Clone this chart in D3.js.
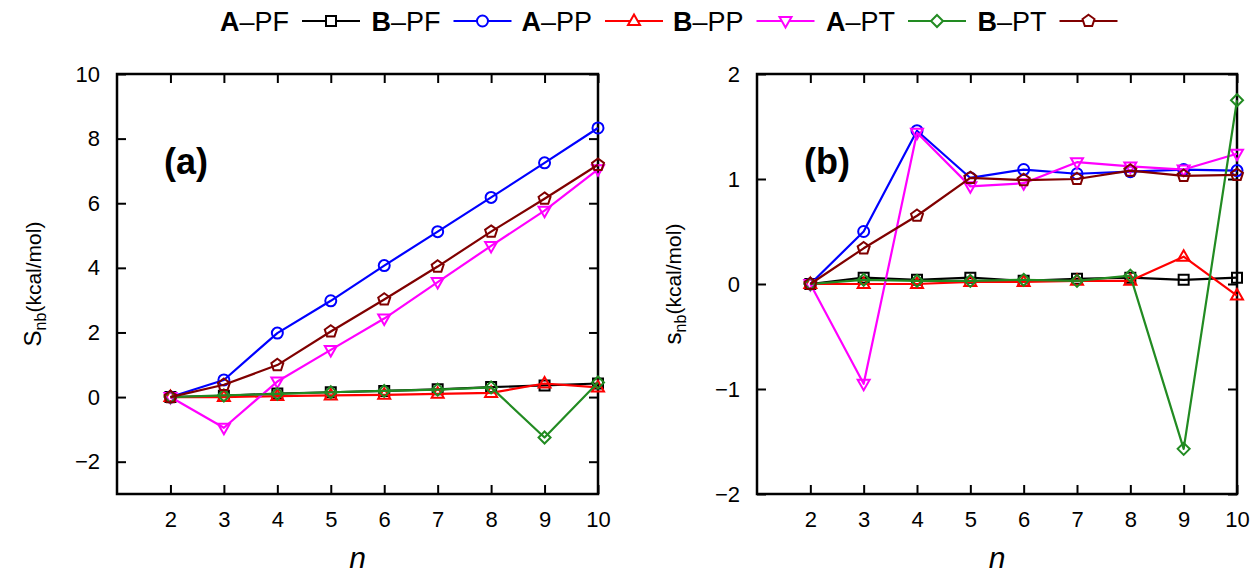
<!DOCTYPE html>
<html><head><meta charset="utf-8">
<script src="https://cdn.jsdelivr.net/npm/d3@7"></script>
<style>
html,body{margin:0;padding:0;background:#fff;}
text{font-family:"Liberation Sans",Arial,Helvetica,sans-serif;}
</style></head>
<body>
<svg id="chart" width="1257" height="574"></svg>
<script>
// ---------- data ----------
const nValues = [2, 3, 4, 5, 6, 7, 8, 9, 10];
const xTicks = [2, 3, 4, 5, 6, 7, 8, 9, 10];
const yTicksA = [-2, 0, 2, 4, 6, 8, 10];
const yTicksB = [-2, -1, 0, 1, 2];
const legendPrefix = ["A", "B", "A", "B", "A", "B"];
const legendSuffix = ["–PF", "–PF", "–PP", "–PP", "–PT", "–PT"];
const seriesColors = ["#000000", "#0000ff", "#ff0000", "#ff00ff", "#228b22", "#800000"];
const seriesShapes = ["square", "circle", "triangle", "triangleDown", "diamond", "pentagon"];

// panel (a)
const a_black   = [0, 0.04, 0.11, 0.15, 0.19, 0.24, 0.31, 0.36, 0.42];
const a_blue    = [0, 0.53, 1.98, 2.98, 4.07, 5.12, 6.18, 7.25, 8.33];
const a_red     = [0, 0.0, 0.03, 0.05, 0.07, 0.1, 0.13, 0.42, 0.3];
const a_magenta = [0, -0.95, 0.48, 1.46, 2.43, 3.56, 4.68, 5.77, 7.05];
const a_green   = [0, 0.05, 0.1, 0.15, 0.19, 0.23, 0.3, -1.25, 0.45];
const a_maroon  = [0, 0.38, 0.99, 2.03, 3.02, 4.04, 5.12, 6.14, 7.19];

// panel (b)
const b_black   = [0, 0.06, 0.04, 0.06, 0.03, 0.05, 0.06, 0.04, 0.06];
const b_blue    = [0, 0.5, 1.46, 1.01, 1.09, 1.05, 1.07, 1.09, 1.08];
const b_red     = [0, 0.0, 0.0, 0.02, 0.02, 0.03, 0.03, 0.26, -0.11];
const b_magenta = [0, -0.95, 1.44, 0.93, 0.96, 1.16, 1.12, 1.09, 1.24];
const b_green   = [0, 0.04, 0.03, 0.03, 0.04, 0.03, 0.08, -1.57, 1.75];
const b_maroon  = [0, 0.34, 0.65, 1.01, 0.99, 1.0, 1.08, 1.03, 1.04];

const panelA = [a_black, a_blue, a_red, a_magenta, a_green, a_maroon];
const panelB = [b_black, b_blue, b_red, b_magenta, b_green, b_maroon];

// ---------- helpers ----------
const svg = d3.select("#chart");

function shapePath(shape) {
  const p = d3.path();
  if (shape === "square") { p.rect(-5, -5, 10, 10); }
  else if (shape === "circle") { p.arc(0, 0, 5.5, 0, 2 * Math.PI); p.closePath(); }
  else if (shape === "triangle") { p.moveTo(0, -6.5); p.lineTo(6, 4); p.lineTo(-6, 4); p.closePath(); }
  else if (shape === "triangleDown") { p.moveTo(0, 6.5); p.lineTo(6, -4); p.lineTo(-6, -4); p.closePath(); }
  else if (shape === "diamond") { p.moveTo(0, -6); p.lineTo(6, 0); p.lineTo(0, 6); p.lineTo(-6, 0); p.closePath(); }
  else if (shape === "pentagon") {
    for (let i = 0; i < 5; i++) {
      const ang = -Math.PI / 2 + i * 2 * Math.PI / 5;
      const x = 6.3 * Math.cos(ang), y = 6.3 * Math.sin(ang);
      if (i === 0) p.moveTo(x, y); else p.lineTo(x, y);
    }
    p.closePath();
  }
  return p.toString();
}

function drawPanel(opts) {
  const { left, right, top, bottom, yDomain, yTicks, data, label, yLetter } = opts;
  const x = d3.scaleLinear().domain([1, 10]).range([left, right]);
  const y = d3.scaleLinear().domain(yDomain).range([bottom, top]);
  const g = svg.append("g");
  const tickLen = 9;

  const bottomAxis = d3.axisBottom(x).tickValues(xTicks).tickSize(-tickLen).tickPadding(17).tickFormat(d3.format("d"));
  const topAxis = d3.axisTop(x).tickValues(xTicks).tickSize(-tickLen).tickFormat("");
  const leftAxis = d3.axisLeft(y).tickValues(yTicks).tickSize(-tickLen).tickPadding(17)
      .tickFormat(d => d < 0 ? "\u2212" + Math.abs(d) : String(d));
  const rightAxis = d3.axisRight(y).tickValues(yTicks).tickSize(-tickLen).tickFormat("");

  const styleAxis = sel => {
    sel.select(".domain").remove();
    sel.selectAll(".tick line").attr("stroke", "#000").attr("stroke-width", 2);
    sel.selectAll(".tick text").attr("fill", "#000").attr("font-size", 22)
      .attr("font-family", '"Liberation Sans",Arial,sans-serif');
  };
  g.append("g").attr("transform", `translate(0,${bottom})`).call(bottomAxis).call(styleAxis);
  g.append("g").attr("transform", `translate(0,${top})`).call(topAxis).call(styleAxis);
  g.append("g").attr("transform", `translate(${left},0)`).call(leftAxis).call(styleAxis);
  g.append("g").attr("transform", `translate(${right},0)`).call(rightAxis).call(styleAxis);

  g.append("rect").attr("x", left).attr("y", top).attr("width", right - left).attr("height", bottom - top)
    .attr("fill", "none").attr("stroke", "#000").attr("stroke-width", 2.5);

  const line = d3.line().x((d, i) => x(nValues[i])).y(d => y(d));
  data.forEach((vals, si) => {
    g.append("path").datum(vals).attr("d", line).attr("fill", "none")
      .attr("stroke", seriesColors[si]).attr("stroke-width", 2.2).attr("stroke-linejoin", "round");
    g.selectAll(null).data(vals).enter().append("path")
      .attr("transform", (d, i) => `translate(${x(nValues[i])},${y(d)})`)
      .attr("d", shapePath(seriesShapes[si]))
      .attr("fill", "none").attr("stroke", seriesColors[si]).attr("stroke-width", 2);
  });

  g.append("text").attr("x", left + 47).attr("y", top + 100).attr("font-size", 36).attr("font-weight", "bold")
    .attr("fill", "#000").text(label);

  g.append("text").attr("x", (left + right) / 2).attr("y", 568).attr("text-anchor", "middle")
    .attr("font-size", 30).attr("font-style", "italic").attr("fill", "#000").text("n");

  const yt = g.append("text")
    .attr("transform", `translate(${left - 76},${(top + bottom) / 2}) rotate(-90)`)
    .attr("text-anchor", "middle").attr("font-size", 21).attr("fill", "#000");
  yt.append("tspan").attr("font-size", 24).text(yLetter);
  yt.append("tspan").attr("font-size", 16).attr("dy", 5).text("nb");
  yt.append("tspan").attr("dy", -5).text("(kcal/mol)");
}

drawPanel({ left: 117, right: 598, top: 74, bottom: 494, yDomain: [-3, 10], yTicks: yTicksA, data: panelA, label: "(a)", yLetter: "S" });
drawPanel({ left: 757, right: 1237, top: 74, bottom: 494, yDomain: [-2, 2], yTicks: yTicksB, data: panelB, label: "(b)", yLetter: "s" });

// ---------- legend ----------
const legend = svg.append("g");
const legStart = 302, legPitch = 151.5, sampleLen = 58, legY = 21;
legendPrefix.forEach((pre, i) => {
  const sx = legStart + i * legPitch;
  const t = legend.append("text").attr("x", sx - 13).attr("y", legY + 10).attr("text-anchor", "end")
    .attr("font-size", 27).attr("fill", "#000");
  t.append("tspan").attr("font-weight", "bold").text(pre);
  t.append("tspan").text(legendSuffix[i]);
  legend.append("line").attr("x1", sx).attr("x2", sx + sampleLen).attr("y1", legY).attr("y2", legY)
    .attr("stroke", seriesColors[i]).attr("stroke-width", 2.2);
  legend.append("path").attr("transform", `translate(${sx + sampleLen / 2},${legY})`)
    .attr("d", shapePath(seriesShapes[i])).attr("fill", "#fff").attr("stroke", seriesColors[i]).attr("stroke-width", 2);
});
</script>
</body></html>
